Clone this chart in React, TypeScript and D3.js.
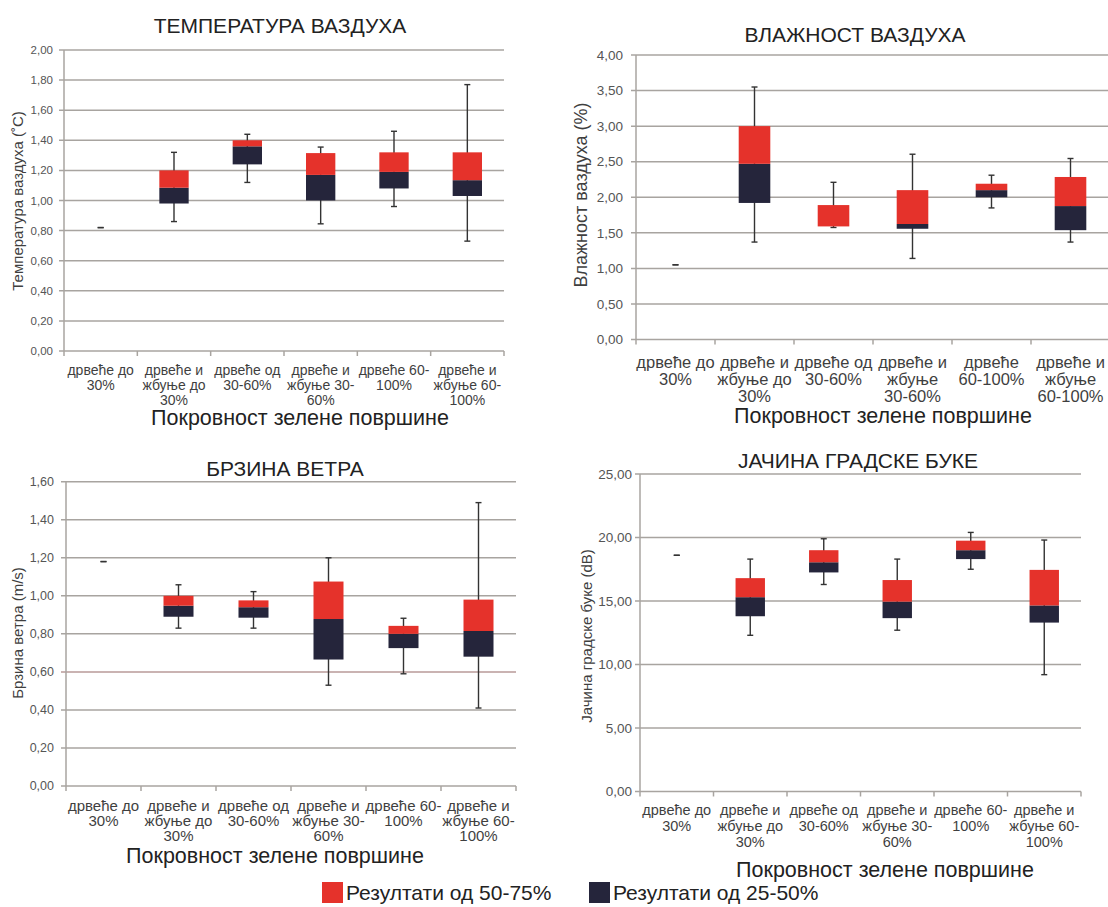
import React from "react";
import * as d3 from "d3";

// ---------- DATA ----------
const categories = [
  "дрвеће до 30%",
  "дрвеће и жбуње до 30%",
  "дрвеће од 30-60%",
  "дрвеће и жбуње 30-60%",
  "дрвеће 60-100%",
  "дрвеће и жбуње 60-100%",
];
const labelsA = [
  ["дрвеће до", "30%"],
  ["дрвеће и", "жбуње до", "30%"],
  ["дрвеће од", "30-60%"],
  ["дрвеће и", "жбуње 30-", "60%"],
  ["дрвеће 60-", "100%"],
  ["дрвеће и", "жбуње 60-", "100%"],
];
const labelsB = [
  ["дрвеће до", "30%"],
  ["дрвеће и", "жбуње до", "30%"],
  ["дрвеће од", "30-60%"],
  ["дрвеће и", "жбуње", "30-60%"],
  ["дрвеће", "60-100%"],
  ["дрвеће и", "жбуње", "60-100%"],
];

// Temperature (°C)
const tempMin = [0.82, 0.86, 1.12, 0.845, 0.96, 0.73];
const tempQ1 = [0.82, 0.98, 1.24, 1.0, 1.08, 1.03];
const tempMed = [0.82, 1.085, 1.36, 1.17, 1.19, 1.135];
const tempQ3 = [0.82, 1.2, 1.4, 1.315, 1.32, 1.32];
const tempMax = [0.82, 1.32, 1.44, 1.355, 1.46, 1.77];

// Humidity (%)
const humMin = [1.05, 1.37, 1.575, 1.14, 1.85, 1.37];
const humQ1 = [1.05, 1.92, 1.59, 1.557, 2.0, 1.537];
const humMed = [1.05, 2.47, 1.59, 1.624, 2.1, 1.876];
const humQ3 = [1.05, 3.0, 1.89, 2.1, 2.19, 2.285];
const humMax = [1.05, 3.55, 2.21, 2.605, 2.31, 2.545];

// Wind (m/s)
const windMin = [1.18, 0.83, 0.83, 0.53, 0.59, 0.41];
const windQ1 = [1.18, 0.89, 0.885, 0.665, 0.725, 0.68];
const windMed = [1.18, 0.948, 0.94, 0.878, 0.8, 0.815];
const windQ3 = [1.18, 1.0, 0.976, 1.075, 0.842, 0.98];
const windMax = [1.18, 1.058, 1.022, 1.2, 0.882, 1.49];

// Noise (dB)
const noiseMin = [18.6, 12.3, 16.3, 12.7, 17.5, 9.2];
const noiseQ1 = [18.6, 13.8, 17.25, 13.65, 18.3, 13.3];
const noiseMed = [18.6, 15.3, 18.05, 14.95, 19.0, 14.65];
const noiseQ3 = [18.6, 16.8, 19.0, 16.65, 19.75, 17.45];
const noiseMax = [18.6, 18.3, 19.9, 18.3, 20.4, 19.8];

const legendItems = ["Резултати од 50-75%", "Резултати од 25-50%"];

// ---------- STYLE ----------
const RED = "#e5322b";
const DARK = "#25253b";
const GRID = "#a8a4a0";
const TEXT = "#3f3f3f";
const FONT = "'Liberation Sans', Arial, sans-serif";

const fmt = d3.formatLocale({ decimal: ",", thousands: ".", grouping: [3], currency: ["", ""] }).format(".2f");

type PanelProps = {
  title: string;
  yTitle: string;
  min: number[];
  q1: number[];
  med: number[];
  q3: number[];
  max: number[];
  yMax: number;
  yStep: number;
  labels: string[][];
  x0: number;
  x1: number;
  yTop: number;
  yBot: number;
  titleX: number;
  titleY: number;
  yTitleX: number;
  yTitleY: number;
  yTitleSize: number;
  tickSize: number;
  tickRight: number;
  labelY: number;
  labelSize: number;
  labelLH: number;
  xTitleX: number;
  xTitleY: number;
  gridColors?: Record<number, string>;
};

function Panel(p: PanelProps) {
  const x = d3.scaleBand<string>().domain(categories).range([p.x0, p.x1]).paddingInner(0).paddingOuter(0);
  const y = d3.scaleLinear().domain([0, p.yMax]).range([p.yBot, p.yTop]);
  const ticks = d3.range(0, p.yMax + p.yStep / 2, p.yStep);
  const bw = x.bandwidth() * 0.4;
  const cap = 6;
  return (
    <g>
      <text x={p.titleX} y={p.titleY} textAnchor="middle" fontSize={21} fill="#222" fontFamily={FONT}>
        {p.title}
      </text>
      {ticks.map((t, i) => (
        <g key={"t" + i}>
          <line
            x1={p.x0 - 5}
            x2={p.x1}
            y1={y(t)}
            y2={y(t)}
            stroke={(p.gridColors && p.gridColors[i]) || GRID}
            strokeWidth={1.5}
          />
          <text
            x={p.tickRight}
            y={y(t)}
            dy="0.35em"
            textAnchor="end"
            fontSize={p.tickSize}
            fill="#555"
            fontFamily={FONT}
          >
            {fmt(t)}
          </text>
        </g>
      ))}
      <line x1={p.x0} x2={p.x0} y1={p.yTop} y2={p.yBot + 5} stroke={GRID} strokeWidth={1.5} />
      {categories.map((c, i) => (
        <line
          key={"xt" + i}
          x1={(x(c) as number) + x.bandwidth()}
          x2={(x(c) as number) + x.bandwidth()}
          y1={p.yBot}
          y2={p.yBot + 5}
          stroke={GRID}
          strokeWidth={1.5}
        />
      ))}
      <text
        transform={`translate(${p.yTitleX},${p.yTitleY}) rotate(-90)`}
        textAnchor="middle"
        dy="0.35em"
        fontSize={p.yTitleSize}
        fill={TEXT}
        fontFamily={FONT}
      >
        {p.yTitle}
      </text>
      {categories.map((c, i) => {
        const cx = (x(c) as number) + x.bandwidth() / 2;
        return (
          <g key={"b" + i}>
            <line x1={cx} x2={cx} y1={y(p.min[i])} y2={y(p.max[i])} stroke="#333" strokeWidth={1.4} />
            <line x1={cx - cap / 2} x2={cx + cap / 2} y1={y(p.min[i])} y2={y(p.min[i])} stroke="#333" strokeWidth={1.4} />
            <line x1={cx - cap / 2} x2={cx + cap / 2} y1={y(p.max[i])} y2={y(p.max[i])} stroke="#333" strokeWidth={1.4} />
            {p.med[i] > p.q1[i] && (
              <rect x={cx - bw / 2} width={bw} y={y(p.med[i])} height={y(p.q1[i]) - y(p.med[i])} fill={DARK} />
            )}
            {p.q3[i] > p.med[i] && (
              <rect x={cx - bw / 2} width={bw} y={y(p.q3[i])} height={y(p.med[i]) - y(p.q3[i])} fill={RED} />
            )}
            {p.labels[i].map((ln, j) => (
              <text
                key={j}
                x={cx}
                y={p.labelY + j * p.labelLH}
                textAnchor="middle"
                fontSize={p.labelSize}
                fill={TEXT}
                fontFamily={FONT}
              >
                {ln}
              </text>
            ))}
          </g>
        );
      })}
      <text x={p.xTitleX} y={p.xTitleY} textAnchor="middle" fontSize={21.5} fill="#222" fontFamily={FONT}>
        Покровност зелене површине
      </text>
    </g>
  );
}

export default function App() {
  return (
    <svg
      width={1108}
      height={907}
      style={{ position: "absolute", left: 0, top: 0, background: "#fff" }}
    >
      <rect width={1108} height={907} fill="#fff" />
      <Panel
        title="ТЕМПЕРАТУРА ВАЗДУХА"
        yTitle="Температура ваздуха (˚C)"
        min={tempMin}
        q1={tempQ1}
        med={tempMed}
        q3={tempQ3}
        max={tempMax}
        yMax={2}
        yStep={0.2}
        labels={labelsA}
        x0={64}
        x1={504}
        yTop={50}
        yBot={351}
        titleX={280}
        titleY={33}
        yTitleX={18}
        yTitleY={201}
        yTitleSize={15}
        tickSize={11.5}
        tickRight={53}
        labelY={375}
        labelSize={14}
        labelLH={15}
        xTitleX={300}
        xTitleY={425}
      />
      <Panel
        title="ВЛАЖНОСТ ВАЗДУХА"
        yTitle="Влажност ваздуха (%)"
        min={humMin}
        q1={humQ1}
        med={humMed}
        q3={humQ3}
        max={humMax}
        yMax={4}
        yStep={0.5}
        labels={labelsB}
        x0={636}
        x1={1110}
        yTop={55}
        yBot={339.5}
        titleX={855}
        titleY={42}
        yTitleX={581}
        yTitleY={195}
        yTitleSize={18}
        tickSize={13.5}
        tickRight={623}
        labelY={368}
        labelSize={16.5}
        labelLH={17}
        xTitleX={883}
        xTitleY={423}
      />
      <Panel
        title="БРЗИНА ВЕТРА"
        yTitle="Брзина ветра (m/s)"
        min={windMin}
        q1={windQ1}
        med={windMed}
        q3={windQ3}
        max={windMax}
        yMax={1.6}
        yStep={0.2}
        labels={labelsA}
        x0={66}
        x1={516}
        yTop={481.7}
        yBot={786}
        titleX={285}
        titleY={476}
        yTitleX={18}
        yTitleY={633}
        yTitleSize={15}
        tickSize={12.5}
        tickRight={54}
        labelY={811}
        labelSize={15}
        labelLH={15}
        xTitleX={275}
        xTitleY={863}
        gridColors={{ 3: "#b89a98" }}
      />
      <Panel
        title="ЈАЧИНА ГРАДСКЕ БУКЕ"
        yTitle="Јачина градске буке (dB)"
        min={noiseMin}
        q1={noiseQ1}
        med={noiseMed}
        q3={noiseQ3}
        max={noiseMax}
        yMax={25}
        yStep={5}
        labels={labelsA}
        x0={640}
        x1={1081}
        yTop={474}
        yBot={791.5}
        titleX={858}
        titleY={468}
        yTitleX={587}
        yTitleY={636}
        yTitleSize={15}
        tickSize={13.5}
        tickRight={632}
        labelY={815}
        labelSize={14.5}
        labelLH={16}
        xTitleX={885}
        xTitleY={877}
      />
      {legendItems.map((t, i) => {
        const lx = i === 0 ? 322 : 589;
        return (
          <g key={t}>
            <rect x={lx} y={882} width={21} height={21} fill={i === 0 ? RED : DARK} />
            <text x={lx + 24} y={900} fontSize={21} fill="#222" fontFamily={FONT}>
              {t}
            </text>
          </g>
        );
      })}
    </svg>
  );
}
